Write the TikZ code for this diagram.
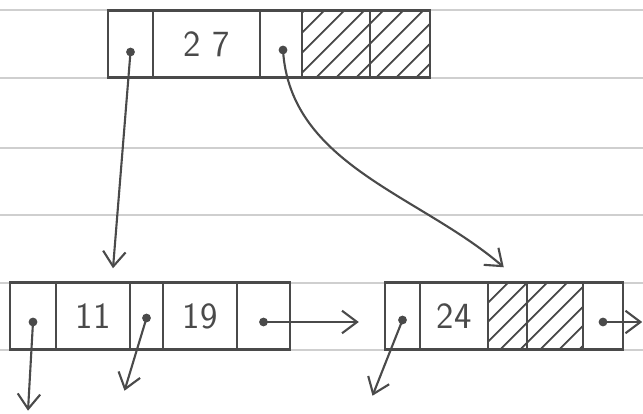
\documentclass[tikz,border=0pt]{standalone}
\usepackage{tikz}
\usetikzlibrary{arrows.meta,patterns.meta,calc}
\definecolor{pencil}{HTML}{4A4A4A}
\definecolor{ruled}{HTML}{CFCFCF}
\tikzset{
  cell/.style={draw=pencil, line width=1.4pt, minimum height=13.4mm, inner sep=0pt,
    font=\sffamily\fontsize{21}{25}\selectfont, text=pencil},
  hatch/.style={cell, pattern={Lines[angle=45,distance=2.8mm,line width=1.1pt]}, pattern color=pencil},
  dot/.style={circle, fill=pencil, inner sep=0pt, minimum size=5pt},
  ptr/.style={-{Straight Barb[length=3mm,width=4.5mm]}, line width=1.2pt, draw=pencil},
}
\begin{document}
\begin{tikzpicture}[x=0.2mm,y=-0.2mm]
    \useasboundingbox (0,0) rectangle (643,414);
    % ruled paper
    \foreach \y in {10,78,148,215,283,350}
      \draw[ruled, line width=0.8pt] (0,\y) -- (643,\y);
    % cells: name/left/right/row/label
    \foreach \n/\a/\b/\y/\t in {%
      t1/108/153/44/, t2/153/260/44/2\,\,7, t3/260/302/44/,
      l1/10/56/316/, l2/56/130/316/11, l3/130/163/316/, l4/163/237/316/19, l5/237/290/316/,
      r1/385/420/316/, r2/420/488/316/24, r5/583/623/316/}{
      \node[cell, minimum width={(\b-\a)*0.2mm}] (\n) at ({(\a+\b)/2},\y) {\t};}
    \foreach \n/\a/\b/\y in {t4/302/370/44, t5/370/430/44, r3/488/527/316, r4/527/583/316}{
      \node[hatch, minimum width={(\b-\a)*0.2mm}] (\n) at ({(\a+\b)/2},\y) {};}
    % pointer dots
    \foreach \n/\dx/\dy in {t1/0/8, t3/2/6, l1/0/6, l3/0/2, l5/0/6, r1/0/4, r5/0/6}{
      \node[dot] (d\n) at ($(\n.center)+(\dx,\dy)$) {};}
    % pointers
    \draw[ptr] (dt1.center) -- ($(l2.north)+(20,-13)$);
    \draw[ptr] (dt3.center) .. controls (290,165) and (420,195) .. ($(r3.north west)+(17,-14)$);
    \draw[ptr] (dl5.center) -- ($(r1.west)+(-25,6)$);
    \draw[ptr] (dr5.center) -- ($(r5.east)+(18,6)$);
    \draw[ptr] (dl1.center) -- ($(l1.south)+(-5,60)$);
    \draw[ptr] (dl3.center) -- ($(l3.south)+(-22,40)$);
    \draw[ptr] (dr1.center) -- ($(r1.south)+(-30,45)$);
  \end{tikzpicture}
\end{document}
